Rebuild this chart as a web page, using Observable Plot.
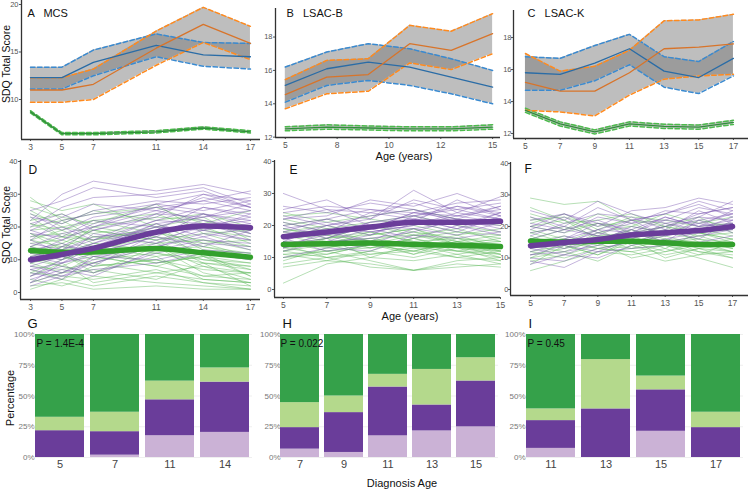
<!DOCTYPE html>
<html><head><meta charset="utf-8">
<script src="https://cdn.jsdelivr.net/npm/d3@7"></script>
<script src="https://cdn.jsdelivr.net/npm/@observablehq/plot@0.6"></script>
<style>
body{margin:0;background:#fff;}
#root{position:relative;width:750px;height:490px;overflow:hidden;font-family:"Liberation Sans",Arial,Helvetica,sans-serif;background:#fff;}
.lbl{position:absolute;font-size:11px;color:#111;white-space:nowrap;transform:translate(-50%,-50%);line-height:1;}
.rot{transform:translate(-50%,-50%) rotate(-90deg);}
</style></head><body><div id="root"></div>
<script>
const FONT = '"Liberation Sans", Arial, Helvetica, sans-serif';
// ---------- Top row: mean SDQ with confidence bands ----------
const ageA = [3,5,7,11,14,17];
const aBlueMean = [12.3,12.3,13.9,15.7,14.7,14.5];
const aBlueUp   = [13.4,13.4,15.2,16.9,16.0,15.9];
const aBlueLo   = [11.1,11.1,12.5,14.5,13.5,13.2];
const aOrMean   = [11.0,11.0,11.6,15.4,17.9,15.9];
const aOrUp     = [12.3,12.3,13.2,17.2,19.7,17.7];
const aOrLo     = [9.7,9.7,10.0,13.6,16.0,14.2];
const aGrMean   = [8.7,6.4,6.4,6.6,7.0,6.6];
const aGrUp     = [8.82,6.52,6.52,6.72,7.12,6.72];
const aGrLo     = [8.58,6.28,6.28,6.48,6.88,6.48];

const ageB = [5,7,9,11,13,15];
const bTicks = [5,7.5,10,12.5,15];
const bTickLabels = ["5","8","10","12","15"];
const bBlueMean = [15.1,16.1,16.5,16.2,15.6,15.0];
const bBlueUp   = [16.2,17.1,17.6,17.3,16.7,16.0];
const bBlueLo   = [14.1,15.1,15.4,15.1,14.6,14.0];
const bOrMean   = [14.55,15.6,15.75,17.6,17.2,18.2];
const bOrUp     = [15.45,16.6,16.7,18.7,18.35,19.4];
const bOrLo     = [13.7,14.6,14.75,16.45,16.05,17.0];
const bGrMean   = [12.5,12.6,12.55,12.5,12.5,12.6];
const bGrUp     = [12.62,12.74,12.67,12.62,12.62,12.74];
const bGrLo     = [12.38,12.48,12.43,12.38,12.38,12.48];

const ageC = [5,7,9,11,13,15,17];
const cBlueMean = [15.8,15.7,16.4,17.3,15.9,15.5,16.7];
const cBlueUp   = [16.8,16.7,17.5,18.2,16.8,16.5,17.75];
const cBlueLo   = [14.7,14.7,15.3,16.3,14.9,14.5,15.6];
const cOrMean   = [15.2,14.65,14.65,15.8,17.3,17.4,17.6];
const cOrUp     = [17.0,15.9,16.2,17.2,19.05,19.1,19.45];
const cOrLo     = [13.45,13.35,13.1,14.4,15.4,15.6,15.7];
const cGrMean   = [13.45,12.6,12.1,12.6,12.45,12.4,12.7];
const cGrUp     = [13.58,12.73,12.23,12.73,12.58,12.53,12.83];
const cGrLo     = [13.32,12.47,11.97,12.47,12.32,12.27,12.57];

// ---------- Middle row: individual trajectories ----------
const ageD = [3,5,7,11,14,17];
const dGreen = [
 [2,3,1,2,1,1],[4,2,5,3,2,1],[6,5,4,7,3,2],[8,7,9,6,8,4],[9,11,8,10,7,6],
 [10,8,12,9,11,7],[11,13,10,12,9,8],[12,10,14,11,13,10],[13,14,12,15,10,9],
 [14,12,15,13,14,11],[15,16,13,17,12,10],[16,14,17,15,16,13],[17,18,16,19,14,12],
 [18,15,19,16,18,14],[19,20,18,21,15,16],[20,22,17,18,20,15],[21,19,22,24,19,17],
 [22,24,20,23,22,18],[24,21,25,22,24,20],[26,23,21,27,18,19],[28,25,27,20,23,16],
 [29,22,24,26,21,25],[5,9,3,6,4,3],[7,4,8,10,5,6],[12,15,11,8,12,5],[3,6,7,4,9,2],
 [23,17,14,19,11,9],[10,12,6,14,6,3],
 [1,4,2,5,3,1],[9,6,11,8,5,4],[13,11,9,14,8,6],[16,19,15,12,10,8],[18,13,20,17,15,11],
 [21,17,16,20,13,12],[25,20,22,18,16,14],[6,10,13,9,11,5],[14,17,19,16,9,7],[11,8,6,11,4,3]
];
const dPurple = [
 [5,8,6,12,15,14],[7,5,9,14,18,16],[3,6,10,16,20,22],[9,12,8,18,22,19],
 [11,9,14,20,19,24],[13,15,12,17,24,21],[8,11,15,22,21,18],[15,13,17,19,26,23],
 [17,20,16,24,23,27],[19,16,21,26,28,25],[21,24,19,23,30,26],[23,21,25,28,27,29],
 [6,4,11,10,13,12],[10,14,13,21,17,20],[12,10,18,15,21,17],[4,7,5,13,16,15],
 [14,18,20,25,22,20],[16,22,24,27,25,28],[20,26,29,30,32,27],[22,30,34,31,33,30],
 [25,28,32,29,31,26],[2,5,7,9,12,10],[18,17,22,20,19,16],[24,19,23,26,24,22],
 [7,9,12,17,14,19],[11,13,16,22,26,24],
 [9,14,19,24,29,26],[14,11,13,18,20,23],[5,10,14,21,23,25],[19,23,27,25,28,31],
 [12,16,20,27,30,28],[8,6,9,15,19,21],[16,12,15,20,24,18],[3,9,11,14,17,13]
];
const dGreenMean  = [12.8,12.3,12.4,13.4,12.1,10.8];
const dPurpleMean = [10.0,11.6,13.5,18.4,20.3,19.8];

const ageE = [5,7,9,11,13,15];
const eGreen = [
 [2,8,10,9,11,8],[8,10,7,6,9,10],[10,12,9,6,8,7],[11,9,12,10,13,9],[12,14,11,13,10,12],
 [13,11,14,12,15,11],[14,15,13,16,12,14],[15,13,16,14,17,13],[16,17,15,18,14,16],
 [17,14,18,15,16,12],[18,20,17,19,15,17],[19,16,20,17,19,15],[20,22,19,21,18,16],
 [22,19,21,23,20,18],[23,24,22,20,17,19],[24,21,23,25,22,20],[9,13,15,11,14,10],
 [12,16,10,14,11,13],[14,10,12,16,13,11],[16,18,14,12,15,14],[11,12,13,14,12,10],
 [18,15,16,17,14,15],[7,9,8,6,7,8],
 [13,16,18,15,13,12],[15,12,14,11,16,14],[17,19,15,13,12,11],[10,11,14,17,15,13],
 [19,17,13,16,18,17],[12,10,11,12,10,9],[21,18,20,18,16,15],[14,16,17,19,14,12]
];
const ePurple = [
 [30,25,24,22,26,23],[25,28,22,31,24,29],[22,23,28,26,30,25],[20,22,19,24,22,26],
 [18,17,21,23,20,24],[16,19,18,20,23,21],[15,14,17,22,19,22],[14,16,20,19,21,20],
 [13,18,15,21,18,23],[12,15,16,18,22,19],[17,20,23,25,21,18],[19,21,18,20,24,22],
 [21,18,24,27,23,25],[10,13,12,17,16,18],[24,26,25,23,26,24],[16,12,14,19,17,21],
 [14,17,19,16,20,17],[23,20,22,28,25,27],
 [18,22,25,24,27,28],[15,20,17,23,25,22],[26,24,27,25,22,21],[20,16,21,22,19,24],
 [13,15,19,24,23,26],[22,25,20,21,28,23]
];
const eGreenMean  = [14.1,14.3,14.5,14.1,13.8,13.4];
const ePurpleMean = [16.5,18.0,19.5,21.0,21.0,21.3];

const ageF = [5,7,9,11,13,15,17];
const fGreen = [
 [29,27,28,22,20,18,16],[6,9,12,11,13,10,7],[10,12,9,14,11,13,10],[12,10,13,12,9,11,12],
 [14,16,13,15,17,14,12],[16,14,17,18,15,16,15],[18,20,17,16,19,17,14],[20,18,21,20,18,19,17],
 [22,23,20,22,21,18,19],[24,21,22,24,20,23,18],[13,15,16,13,14,12,11],[15,17,14,19,16,15,13],
 [17,13,18,15,12,14,16],[19,16,15,17,20,18,15],[21,24,19,23,22,20,21],[11,13,15,10,12,15,14],
 [9,11,14,13,16,12,10],[23,19,24,21,17,22,20],[26,22,18,20,24,21,23],[8,14,11,16,10,13,12],
 [14,12,16,17,13,18,16],[18,15,19,14,16,13,15],[12,14,11,15,18,16,13],[20,22,16,19,15,17,18],
 [16,19,21,18,20,15,12],[10,15,13,12,14,11,15]
];
const fPurple = [
 [25,22,28,24,21,23,28],[22,24,20,25,26,29,27],[20,18,23,21,25,24,26],[18,20,17,22,24,28,25],
 [16,14,19,18,22,21,24],[14,17,15,20,18,23,22],[12,15,18,16,21,19,23],[10,9,13,15,17,20,21],
 [8,11,10,14,16,18,20],[15,13,16,19,15,17,19],[13,16,21,17,20,22,18],[21,19,22,18,23,20,25],
 [11,12,14,17,19,16,22],[17,21,24,23,19,25,21],[9,7,12,13,14,15,17],[19,23,18,21,22,26,24],
 [13,11,15,18,20,24,26],[16,19,17,15,18,21,19],[20,24,21,19,23,20,22],[11,14,12,16,15,22,24],
 [23,20,26,22,24,27,23],[14,16,19,22,17,19,21]
];
const fGreenMean  = [15.4,15.1,15.3,15.3,14.8,14.3,14.3];
const fPurpleMean = [13.9,14.9,15.9,17.3,18.0,18.7,20.0];

// ---------- Bottom row: stacked percentages by diagnosis age ----------
const gAges = [5,7,11,14];
const gLightPurple = [0,1.9,17.7,20.4];
const gDarkPurple  = [21.8,19.1,29.2,40.9];
const gLightGreen  = [10.9,15.8,15.2,11.5];
const gDarkGreen   = [67.3,63.2,37.9,27.2];

const hAges = [7,9,11,13,15];
const hLightPurple = [6.8,4.1,17.6,21.6,24.9];
const hDarkPurple  = [17.5,32.4,39.7,21.1,37.3];
const hLightGreen  = [20.3,13.5,10.3,28.9,18.9];
const hDarkGreen   = [55.4,50.0,32.4,28.4,18.9];

const iAges = [11,13,15,17];
const iLightPurple = [7.4,0,21.3,0];
const iDarkPurple  = [22.6,39.5,33.7,24.3];
const iLightGreen  = [9.5,40.1,11.2,12.5];
const iDarkGreen   = [60.5,20.4,33.8,63.2];

// ---------- helpers ----------
const root = document.getElementById("root");
function place(svg, left, top) {
  svg.style.position = "absolute";
  svg.style.left = left + "px";
  svg.style.top = top + "px";
  svg.style.overflow = "hidden";
  root.appendChild(svg);
  return svg;
}
function setFont(svg, axis, size) {
  svg.querySelectorAll(`g[aria-label^="${axis}-axis"] text`).forEach(t => t.style.fontSize = size);
}
function label(text, x, y, cls, size) {
  const d = document.createElement("div");
  d.className = "lbl" + (cls ? " " + cls : "");
  d.textContent = text;
  d.style.left = x + "px"; d.style.top = y + "px";
  if (size) d.style.fontSize = size;
  root.appendChild(d);
}
const BLUE_M = "#2a6ca6", BLUE_D = "#3a8ad0";
const OR_M = "#d8742a", OR_D = "#ff8a1e";
const GR_M = "#2f8f3a", GR_D = "#4cbb4c";

function bandMarks(ages, groups) {
  const sets = groups.map(g => ages.map((a, i) => ({a, m: g.mean[i], u: g.up[i], l: g.lo[i]})));
  const marks = [];
  sets.forEach(d => marks.push(Plot.areaY(d, {x: "a", y1: "l", y2: "u", fill: "#777", fillOpacity: 0.48})));
  sets.forEach((d, k) => {
    const g = groups[k];
    marks.push(Plot.line(d, {x: "a", y: "u", stroke: g.dc, strokeWidth: 1.5, strokeDasharray: "4.5,2.5"}));
    marks.push(Plot.line(d, {x: "a", y: "l", stroke: g.dc, strokeWidth: 1.5, strokeDasharray: "4.5,2.5"}));
  });
  sets.forEach((d, k) => marks.push(Plot.line(d, {x: "a", y: "m", stroke: groups[k].mc, strokeWidth: 1.3})));
  return marks;
}

function linePanel(o) {
  const svg = Plot.plot({
    width: o.width, height: o.height,
    marginLeft: o.ml, marginRight: o.mr, marginTop: o.mt, marginBottom: o.mb,
    x: {domain: o.xdom, ticks: o.xticks, tickFormat: o.xfmt, tickSize: 2, tickPadding: 2, label: null},
    y: {domain: o.ydom, ticks: o.yticks, tickSize: 2, tickPadding: o.ypad == null ? 1 : o.ypad, label: null},
    style: {fontSize: "8.5px", color: "#555", fontFamily: FONT, background: "transparent"},
    marks: [
      ...o.marks,
      Plot.ruleX([o.xdom[0]], {stroke: "#333", strokeWidth: 1.3}),
      Plot.ruleY([o.ydom[0]], {stroke: "#333", strokeWidth: 1.3}),
      Plot.text([o.title], {frameAnchor: "top-left", text: d => d, textAnchor: "start", lineAnchor: "middle",
        dx: o.tdx, dy: o.tdy, fill: "#111", fontSize: o.tsize || 11})
    ]
  });
  setFont(svg, "y", "7.5px");
  return place(svg, o.left, o.top);
}

function spaghetti(ages, rows, id, color) {
  const d = [];
  rows.forEach((r, i) => r.forEach((v, j) => d.push({id: id + i, a: ages[j], v})));
  return Plot.line(d, {x: "a", y: "v", z: "id", stroke: color, strokeWidth: 0.75, strokeOpacity: 0.6});
}
function meanLine(ages, vals, color) {
  return Plot.line(ages.map((a, i) => ({a, v: vals[i]})), {x: "a", y: "v", stroke: color, strokeWidth: 5.5, curve: "monotone-x"});
}

// ---------- Panel A ----------
linePanel({left: 0, top: 0, width: 262, height: 155, ml: 21, mr: 2, mt: 0, mb: 16,
  xdom: [2.427, 17.64], xticks: ageA, ydom: [5.79, 20.42], yticks: [10, 15, 20],
  title: "A   MCS", tdx: 6, tdy: 13,
  marks: bandMarks(ageA, [
    {mean: aGrMean, up: aGrUp, lo: aGrLo, mc: GR_M, dc: GR_D},
    {mean: aBlueMean, up: aBlueUp, lo: aBlueLo, mc: BLUE_M, dc: BLUE_D},
    {mean: aOrMean, up: aOrUp, lo: aOrLo, mc: OR_M, dc: OR_D}])});

// ---------- Panel B ----------
linePanel({left: 250, top: 0, width: 250, height: 155, ml: 25, mr: 0, mt: 8, mb: 18,
  xdom: [4.527, 15.38], xticks: bTicks, xfmt: (d) => bTickLabels[bTicks.indexOf(d)],
  ydom: [11.98, 19.71], yticks: [12, 14, 16, 18],
  title: "B   LSAC-B", tdx: 11, tdy: 5,
  marks: bandMarks(ageB, [
    {mean: bGrMean, up: bGrUp, lo: bGrLo, mc: GR_M, dc: GR_D},
    {mean: bBlueMean, up: bBlueUp, lo: bBlueLo, mc: BLUE_M, dc: BLUE_D},
    {mean: bOrMean, up: bOrUp, lo: bOrLo, mc: OR_M, dc: OR_D}])});

// ---------- Panel C ----------
linePanel({left: 500, top: 0, width: 250, height: 155, ml: 13, mr: 2, mt: 10, mb: 17,
  xdom: [4.31, 17.87], xticks: ageC, ydom: [11.69, 19.69], yticks: [12, 14, 16, 18], ypad: 0,
  title: "C   LSAC-K", tdx: 14, tdy: 3,
  marks: bandMarks(ageC, [
    {mean: cGrMean, up: cGrUp, lo: cGrLo, mc: GR_M, dc: GR_D},
    {mean: cBlueMean, up: cBlueUp, lo: cBlueLo, mc: BLUE_M, dc: BLUE_D},
    {mean: cOrMean, up: cOrUp, lo: cOrLo, mc: OR_M, dc: OR_D}])});

// ---------- Panels D, E, F ----------
const SG = "#5cb85a", SP = "#7a58b0", TG = "#33a02c", TP = "#6a3d9a";
linePanel({left: 0, top: 150, width: 262, height: 162, ml: 20, mr: 2, mt: 10, mb: 13,
  xdom: [2.36, 17.64], xticks: ageD, ydom: [-2.14, 40.3], yticks: [0, 10, 20, 30, 40],
  title: "D", tdx: 8, tdy: 10, tsize: 12,
  marks: [spaghetti(ageD, dGreen, "g", SG), spaghetti(ageD, dPurple, "p", SP),
          meanLine(ageD, dGreenMean, TG), meanLine(ageD, dPurpleMean, TP)]});
linePanel({left: 250, top: 150, width: 262, height: 162, ml: 24, mr: 12, mt: 10, mb: 15,
  xdom: [4.59, 15.0], xticks: ageE, ydom: [-2.5, 40.31], yticks: [0, 10, 20, 30, 40],
  title: "E", tdx: 15, tdy: 10, tsize: 12,
  marks: [spaghetti(ageE, eGreen, "g", SG), spaghetti(ageE, ePurple, "p", SP),
          meanLine(ageE, eGreenMean, TG), meanLine(ageE, ePurpleMean, TP)]});
linePanel({left: 500, top: 150, width: 250, height: 162, ml: 10, mr: 2, mt: 12, mb: 17,
  xdom: [3.81, 17.95], xticks: ageF, ydom: [-1.9, 40.3], yticks: [0, 10, 20, 30, 40], ypad: 0,
  title: "F", tdx: 14, tdy: 7, tsize: 12,
  marks: [spaghetti(ageF, fGreen, "g", SG), spaghetti(ageF, fPurple, "p", SP),
          meanLine(ageF, fGreenMean, TG), meanLine(ageF, fPurpleMean, TP)]});

// ---------- Panels G, H, I ----------
const CAT = ["lp", "dp", "lg", "dg"];
const CATCOL = ["#cbb2d6", "#6a3d9a", "#b4d98c", "#35a14a"];
function barPanel(o) {
  const data = [];
  o.ages.forEach((a, i) => {
    [o.lp, o.dp, o.lg, o.dg].forEach((arr, k) => data.push({a: String(a), c: CAT[k], v: arr[i]}));
  });
  const svg = Plot.plot({
    width: o.width, height: 180, marginTop: 24, marginBottom: 33, marginLeft: o.ml, marginRight: o.mr,
    x: {type: "band", domain: o.ages.map(String), paddingInner: 0.11, paddingOuter: 0.05, align: 0.5,
        tickSize: 0, tickPadding: 3, label: null},
    y: {domain: [0, 100], ticks: [0, 25, 50, 75, 100], tickFormat: d => d + "%", tickSize: 0, tickPadding: -2, label: null},
    color: {domain: CAT, range: CATCOL},
    style: {fontSize: "8px", color: "#777", fontFamily: FONT, background: "transparent"},
    marks: [
      Plot.ruleY([0, 25, 50, 75, 100], {stroke: "#ebebeb", strokeWidth: 0.8}),
      Plot.barY(data, {x: "a", y: "v", fill: "c"}),
      Plot.text([o.letter], {frameAnchor: "top-left", text: d => d, textAnchor: "start", lineAnchor: "middle",
        dx: o.ldx, dy: -11, fill: "#111", fontSize: 13}),
      Plot.text([o.p], {frameAnchor: "top-left", text: d => d, textAnchor: "start", lineAnchor: "middle",
        dx: o.pdx, dy: 9, fill: "#111", fontSize: 10})
    ]
  });
  setFont(svg, "x", "11px");
  svg.querySelectorAll('g[aria-label^="x-axis"] text').forEach(t => t.style.fill = "#444");
  return place(svg, o.left, 310);
}
barPanel({left: 0, width: 252, ml: 32, mr: 0, ages: gAges, lp: gLightPurple, dp: gDarkPurple,
  lg: gLightGreen, dg: gDarkGreen, letter: "G", ldx: -5, p: "P = 1.4E-4", pdx: 4});
barPanel({left: 250, width: 250, ml: 28, mr: 2, ages: hAges, lp: hLightPurple, dp: hDarkPurple,
  lg: hLightGreen, dg: hDarkGreen, letter: "H", ldx: 4, p: "P = 0.022", pdx: 2});
barPanel({left: 500, width: 250, ml: 23, mr: 7, ages: iAges, lp: iLightPurple, dp: iDarkPurple,
  lg: iLightGreen, dg: iDarkGreen, letter: "I", ldx: 5, p: "P = 0.45", pdx: 4});

// ---------- Axis titles ----------
label("SDQ Total Score", 5.5, 64, "rot", "10.5px");
label("SDQ Total Score", 5.5, 225, "rot", "10.5px");
label("Percentage", 10, 398, "rot", "11px");
label("Age (years)", 404, 156, "", "11px");
label("Age (years)", 410, 316, "", "11px");
label("Diagnosis Age", 402, 483, "", "11px");
</script></body></html>
